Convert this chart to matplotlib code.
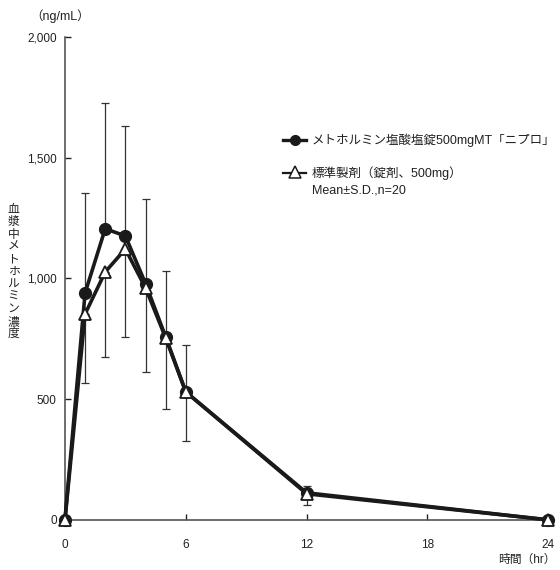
import matplotlib
matplotlib.use('Agg')
import matplotlib.pyplot as plt
from matplotlib.lines import Line2D

plt.rcParams['font.family'] = ['Liberation Sans', 'Noto Sans CJK JP', 'DejaVu Sans']

# 時間 (hr)
hours = [0, 1, 2, 3, 4, 5, 6, 12, 24]
# 試験製剤 (mean, +SD)
test_mean = [0, 940, 1206, 1176, 979, 758, 530, 112, 0]
test_sd = [0, 414, 522, 457, 350, 274, 195, 29, 0]
# 標準製剤 (mean, -SD)
ref_mean = [0, 853, 1027, 1122, 961, 754, 530, 108, 0]
ref_sd = [0, 286, 352, 364, 348, 294, 203, 46, 0]

test_label = 'メトホルミン塩酸塩錠500mgMT「ニプロ」'
ref_label = '標準製剤（錠剤、500mg）'
note = 'Mean±S.D.,n=20'

fig = plt.figure(figsize=(5.6, 5.7), dpi=100)
ax = fig.add_axes([0.116, 0.088, 0.863, 0.847])

# 誤差棒 (試験は上側、標準は下側)
ax.errorbar(hours, test_mean, yerr=[[0] * len(test_sd), test_sd], fmt='none',
            ecolor='#333333', elinewidth=0.9, capsize=3, capthick=0.9, zorder=2)
ax.errorbar(hours, ref_mean, yerr=[ref_sd, [0] * len(ref_sd)], fmt='none',
            ecolor='#333333', elinewidth=0.9, capsize=3, capthick=0.9, zorder=2)

ax.plot(hours, test_mean, color='#1a1a1a', lw=2.6, marker='o', markersize=8.5,
        markerfacecolor='#1a1a1a', markeredgecolor='#1a1a1a', clip_on=False, zorder=3)
ax.plot(hours, ref_mean, color='#1a1a1a', lw=2.6, marker='^', markersize=9,
        markerfacecolor='white', markeredgecolor='#1a1a1a', markeredgewidth=1.3,
        clip_on=False, zorder=4)

ax.set_xlim(0, 24)
ax.set_ylim(0, 2000)
ax.set_xticks([0, 6, 12, 18, 24])
ax.set_yticks([0, 500, 1000, 1500, 2000])
ax.set_yticklabels(['0', '500', '1,000', '1,500', '2,000'])
ax.tick_params(direction='in', length=4, width=1, labelsize=8.5, colors='#222222', pad=6)
ax.tick_params(axis='x', pad=14)
for s in ['top', 'right']:
    ax.spines[s].set_visible(False)
for s in ['left', 'bottom']:
    ax.spines[s].set_color('#555555')
    ax.spines[s].set_linewidth(1.2)

# 軸ラベル
fig.text(0.107, 0.972, '（ng/mL）', fontsize=9, ha='center', va='center', color='#222222')
fig.text(0.024, 0.523, '\n'.join('血漿中メトホルミン濃度'), fontsize=8.5, ha='center',
         va='center', linespacing=1.05, color='#222222')
fig.text(0.992, 0.018, '時間（hr）', fontsize=8.5, ha='right', va='center', color='#222222')

# 凡例
fig.add_artist(Line2D([0.506, 0.546], [0.754, 0.754], color='#1a1a1a', lw=2.4,
                      transform=fig.transFigure))
fig.add_artist(Line2D([0.526], [0.754], marker='o', markersize=7, color='#1a1a1a',
                      transform=fig.transFigure))
fig.add_artist(Line2D([0.506, 0.546], [0.697, 0.697], color='#1a1a1a', lw=1.6,
                      transform=fig.transFigure))
fig.add_artist(Line2D([0.526], [0.699], marker='^', markersize=8, markerfacecolor='white',
                      markeredgecolor='#1a1a1a', markeredgewidth=1.1, color='#1a1a1a',
                      transform=fig.transFigure))
fig.text(0.557, 0.754, test_label, fontsize=9, va='center', color='#222222')
fig.text(0.557, 0.697, ref_label, fontsize=9, va='center', color='#222222')
fig.text(0.557, 0.665, note, fontsize=9, va='center', color='#222222')

fig.savefig('out.png', dpi=100)
